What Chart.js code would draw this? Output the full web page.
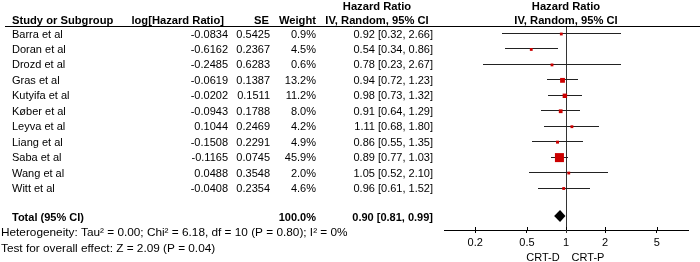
<!DOCTYPE html>
<html>
<head>
<meta charset="utf-8">
<script src="https://cdn.jsdelivr.net/npm/chart.js@4"></script>
<style>
html,body{margin:0;padding:0;background:#fff;}
#wrap{position:relative;width:700px;height:262px;}
</style>
</head>
<body>
<div id="wrap"><canvas id="c" width="700" height="262"></canvas></div>
<script>
const studies = ['Barra et al','Doran et al','Drozd et al','Gras et al','Kutyifa et al','Køber et al','Leyva et al','Liang et al','Saba et al','Wang et al','Witt et al'];
const logHR = [-0.0834,-0.6162,-0.2485,-0.0619,-0.0202,-0.0943,0.1044,-0.1508,-0.1165,0.0488,-0.0408];
const seVals = [0.5425,0.2367,0.6283,0.1387,0.1511,0.1788,0.2469,0.2291,0.0745,0.3548,0.2354];
const weights = [0.9,4.5,0.6,13.2,11.2,8.0,4.2,4.9,45.9,2.0,4.6];
const hr = [0.92,0.54,0.78,0.94,0.98,0.91,1.11,0.86,0.89,1.05,0.96];
const ciLow = [0.32,0.34,0.23,0.72,0.73,0.64,0.68,0.55,0.77,0.52,0.61];
const ciHigh = [2.66,0.86,2.67,1.23,1.32,1.29,1.80,1.35,1.03,2.10,1.52];
const total = {hr:0.90, lo:0.81, hi:0.99, weight:100.0};
const xTicks = [0.2,0.5,1,2,5];
const heterogeneity = 'Heterogeneity: Tau² = 0.00; Chi² = 6.18, df = 10 (P = 0.80); I² = 0%';
const overall = 'Test for overall effect: Z = 2.09 (P = 0.04)';
const leftLabel = 'CRT-D', rightLabel = 'CRT-P';

const TOTAL_ROW = 11.78;
const FONT = 'Arial, "Liberation Sans", sans-serif';
const RED = '#cc0000';

const pointData = studies.map((s,i)=>({x:hr[i], y:i}));
const radii = weights.map(w => Math.max(2.0, 1.33*Math.sqrt(w)/1.414));

const fmt = (v,d)=>v.toFixed(d);
const ciText = (h,l,u)=>fmt(h,2)+' ['+fmt(l,2)+', '+fmt(u,2)+']';

const tablePlugin = {
  id:'table',
  beforeDatasetsDraw(chart){
    const ctx = chart.ctx;
    const xs = chart.scales.x, ys = chart.scales.y;
    const ca = chart.chartArea;
    ctx.save();
    ctx.strokeStyle = '#333';
    ctx.lineWidth = 1;
    const cx = xs.getPixelForValue(1);
    const lx = Math.round(cx) + 0.5;
    ctx.beginPath();
    ctx.moveTo(lx, ca.top); ctx.lineTo(lx, ca.bottom + 3);
    ctx.stroke();
    ctx.strokeStyle = '#222';
    studies.forEach((s,i)=>{
      const y = Math.round(ys.getPixelForValue(i)) - 0.5;
      ctx.beginPath();
      ctx.moveTo(Math.round(xs.getPixelForValue(ciLow[i])), y);
      ctx.lineTo(Math.round(xs.getPixelForValue(ciHigh[i])), y);
      ctx.stroke();
    });
    ctx.restore();
  },
  afterDraw(chart){
    const ctx = chart.ctx;
    const xs = chart.scales.x, ys = chart.scales.y;
    const ca = chart.chartArea;
    const rowY = i => ys.getPixelForValue(i);
    ctx.save();
    ctx.fillStyle = '#000';
    ctx.textBaseline = 'middle';
    ctx.font = 'bold 11.2px ' + FONT;
    ctx.textAlign = 'left';
    ctx.fillText('Study or Subgroup', 12, 21);
    ctx.textAlign = 'right';
    ctx.fillText('log[Hazard Ratio]', 224, 21);
    ctx.fillText('SE', 269, 21);
    ctx.fillText('Weight', 316, 21);
    ctx.textAlign = 'center';
    ctx.fillText('Hazard Ratio', 377, 7);
    ctx.fillText('IV, Random, 95% CI', 377, 21);
    const cx = xs.getPixelForValue(1);
    ctx.fillText('Hazard Ratio', cx, 7);
    ctx.fillText('IV, Random, 95% CI', cx, 21);
    ctx.strokeStyle = '#000';
    ctx.lineWidth = 1;
    ctx.beginPath();
    ctx.moveTo(5, 26.5); ctx.lineTo(700, 26.5);
    ctx.stroke();
    ctx.font = '11px ' + FONT;
    studies.forEach((s,i)=>{
      const y = rowY(i) + 0.5;
      ctx.textAlign = 'left';
      ctx.fillText(s, 12, y);
      ctx.textAlign = 'right';
      ctx.fillText(fmt(logHR[i],4), 228, y);
      ctx.fillText(fmt(seVals[i],4), 270, y);
      ctx.fillText(fmt(weights[i],1)+'%', 316, y);
      ctx.fillText(ciText(hr[i],ciLow[i],ciHigh[i]), 433, y);
    });
    const ty = rowY(TOTAL_ROW) + 2;
    ctx.font = 'bold 11px ' + FONT;
    ctx.textAlign = 'left';
    ctx.fillText('Total (95% CI)', 12, ty);
    ctx.textAlign = 'right';
    ctx.fillText(fmt(total.weight,1)+'%', 316, ty);
    ctx.fillText(ciText(total.hr,total.lo,total.hi), 433, ty);
    ctx.font = '11.8px ' + FONT;
    ctx.textAlign = 'left';
    ctx.fillText(heterogeneity, 1, 233);
    ctx.fillText(overall, 1, 249);
    ctx.font = '11px ' + FONT;
    ctx.textAlign = 'center';
    ctx.fillText(leftLabel, cx - 23, 258);
    ctx.fillText(rightLabel, cx + 22, 258);
    xTicks.forEach(v=>{
      const px = Math.round(xs.getPixelForValue(v)) + 0.5;
      ctx.beginPath();
      ctx.moveTo(px, ca.bottom - 3); ctx.lineTo(px, ca.bottom);
      ctx.stroke();
    });
    const dy = rowY(TOTAL_ROW);
    const dl = xs.getPixelForValue(total.lo), dr = xs.getPixelForValue(total.hi), dm = xs.getPixelForValue(total.hr);
    ctx.fillStyle = '#000';
    ctx.beginPath();
    ctx.moveTo(dl, dy); ctx.lineTo(dm, dy - 6); ctx.lineTo(dr, dy); ctx.lineTo(dm, dy + 6); ctx.closePath();
    ctx.fill();
    ctx.restore();
  }
};

new Chart(document.getElementById('c'), {
  data:{
    datasets:[
      {type:'scatter', data:pointData, pointStyle:'rect', pointRadius:radii, pointHoverRadius:radii, backgroundColor:RED, borderColor:RED, borderWidth:0}
    ]
  },
  options:{
    responsive:false, animation:false, devicePixelRatio:1,
    layout:{padding:{left:444, right:12, top:26, bottom:0}},
    plugins:{legend:{display:false}, tooltip:{enabled:false}},
    scales:{
      x:{type:'logarithmic', min:0.1149, max:8.7, position:'bottom',
        afterBuildTicks:(s)=>{ s.ticks = xTicks.map(v=>({value:v})); },
        afterFit:(s)=>{ s.height = 32; },
        ticks:{callback:(v)=>String(v), color:'#000', font:{family:FONT, size:11}, padding:3, maxRotation:0, autoSkip:false},
        grid:{drawOnChartArea:false, drawTicks:true, tickLength:3, color:'#000', lineWidth:1},
        border:{display:true, color:'#000', width:1}
      },
      y:{type:'linear', min:-0.518, max:12.686, reverse:true, display:false}
    }
  },
  plugins:[tablePlugin]
});
</script>
</body>
</html>
